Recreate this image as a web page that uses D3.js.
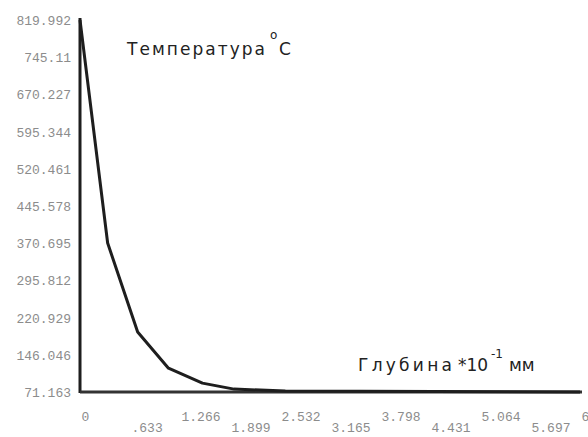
<!DOCTYPE html>
<html>
<head>
<meta charset="utf-8">
<script src="https://cdn.jsdelivr.net/npm/d3@7"></script>
<style>
  html, body { margin: 0; padding: 0; background: #fff; }
  svg { display: block; }
  .tick-label { font-family: "Liberation Mono", "DejaVu Sans Mono", monospace; font-size: 13px; fill: #8c8c8c; }
  .title { font-family: "DejaVu Sans", Verdana, sans-serif; fill: #222; }
</style>
</head>
<body>
<script>
// Depth (×10⁻¹ mm) and temperature (°C) profile
const depth       = [0, 0.35, 0.73, 1.12, 1.55, 1.95, 2.6, 6.33];
const temperature = [819.992, 371, 192, 119, 89, 77, 73, 71.2];

// Axis tick values and their printed labels
const yTickValues = [819.992, 745.11, 670.227, 595.344, 520.461, 445.578, 370.695, 295.812, 220.929, 146.046, 71.163];
const yTickLabels = ["819.992", "745.11", "670.227", "595.344", "520.461", "445.578", "370.695", "295.812", "220.929", "146.046", "71.163"];
const xTickValues = [0, 0.633, 1.266, 1.899, 2.532, 3.165, 3.798, 4.431, 5.064, 5.697, 6.33];
const xTickLabels = ["0", ".633", "1.266", "1.899", "2.532", "3.165", "3.798", "4.431", "5.064", "5.697", "6.33"];

const W = 588, H = 437;
const svg = d3.select("body").append("svg").attr("width", W).attr("height", H);

const x = d3.scaleLinear().domain([0, 6.33]).range([80, 580]);
const y = d3.scaleLinear().domain([71.163, 819.992]).range([392, 20]);

// Y axis: labels right-aligned to the left of the axis line
const yAxis = d3.axisLeft(y)
  .tickValues(yTickValues)
  .tickSize(0)
  .tickPadding(9)
  .tickFormat((d, i) => yTickLabels[i]);
const gy = svg.append("g").attr("transform", `translate(${x(0)},0)`).call(yAxis);
gy.select(".domain").remove();
gy.selectAll("text").attr("class", "tick-label").attr("dy", "0.35em").attr("font-size", null).attr("font-family", null);

// X axis: labels start at their tick, alternating between two rows
const xAxis = d3.axisBottom(x)
  .tickValues(xTickValues)
  .tickSize(0)
  .tickFormat((d, i) => xTickLabels[i]);
const gx = svg.append("g").attr("transform", `translate(0,${y(71.163)})`).call(xAxis);
gx.select(".domain").remove();
gx.selectAll("text")
  .attr("class", "tick-label")
  .attr("font-size", null).attr("font-family", null)
  .attr("text-anchor", "start")
  .attr("x", 1)
  .attr("y", (d, i) => i % 2 === 0 ? 29 : 40)
  .attr("dy", null);

// Axis lines
svg.append("line")
  .attr("x1", x(0)).attr("x2", x(0))
  .attr("y1", y(819.992) - 2).attr("y2", y(71.163) + 1)
  .attr("stroke", "#1e1e1e").attr("stroke-width", 3);
svg.append("line")
  .attr("x1", x(0)).attr("x2", x(6.33) + 2)
  .attr("y1", y(71.163)).attr("y2", y(71.163))
  .attr("stroke", "#333").attr("stroke-width", 3);

// Temperature curve
const line = d3.line().x((d, i) => x(depth[i])).y(d => y(d));
svg.append("path")
  .datum(temperature)
  .attr("d", line)
  .attr("fill", "none")
  .attr("stroke", "#1e1e1e")
  .attr("stroke-width", 3)
  .attr("stroke-linejoin", "round");

// Axis titles
const t1 = svg.append("text").attr("class", "title").attr("x", 127).attr("y", 55).attr("font-size", 17);
t1.append("tspan").text("Температура").attr("textLength", 138).attr("lengthAdjust", "spacing");
t1.append("tspan").text("o").attr("x", 270).attr("y", 39).attr("font-size", 12);
t1.append("tspan").text("C").attr("x", 279).attr("y", 55);

const t2 = svg.append("text").attr("class", "title").attr("x", 358).attr("y", 371).attr("font-size", 17);
t2.append("tspan").text("Глубина").attr("textLength", 94).attr("lengthAdjust", "spacing");
t2.append("tspan").text("*10").attr("x", 458);
t2.append("tspan").text("-1").attr("x", 491).attr("y", 358).attr("font-size", 12);
t2.append("tspan").text("мм").attr("x", 509).attr("y", 371);
</script>
</body>
</html>
